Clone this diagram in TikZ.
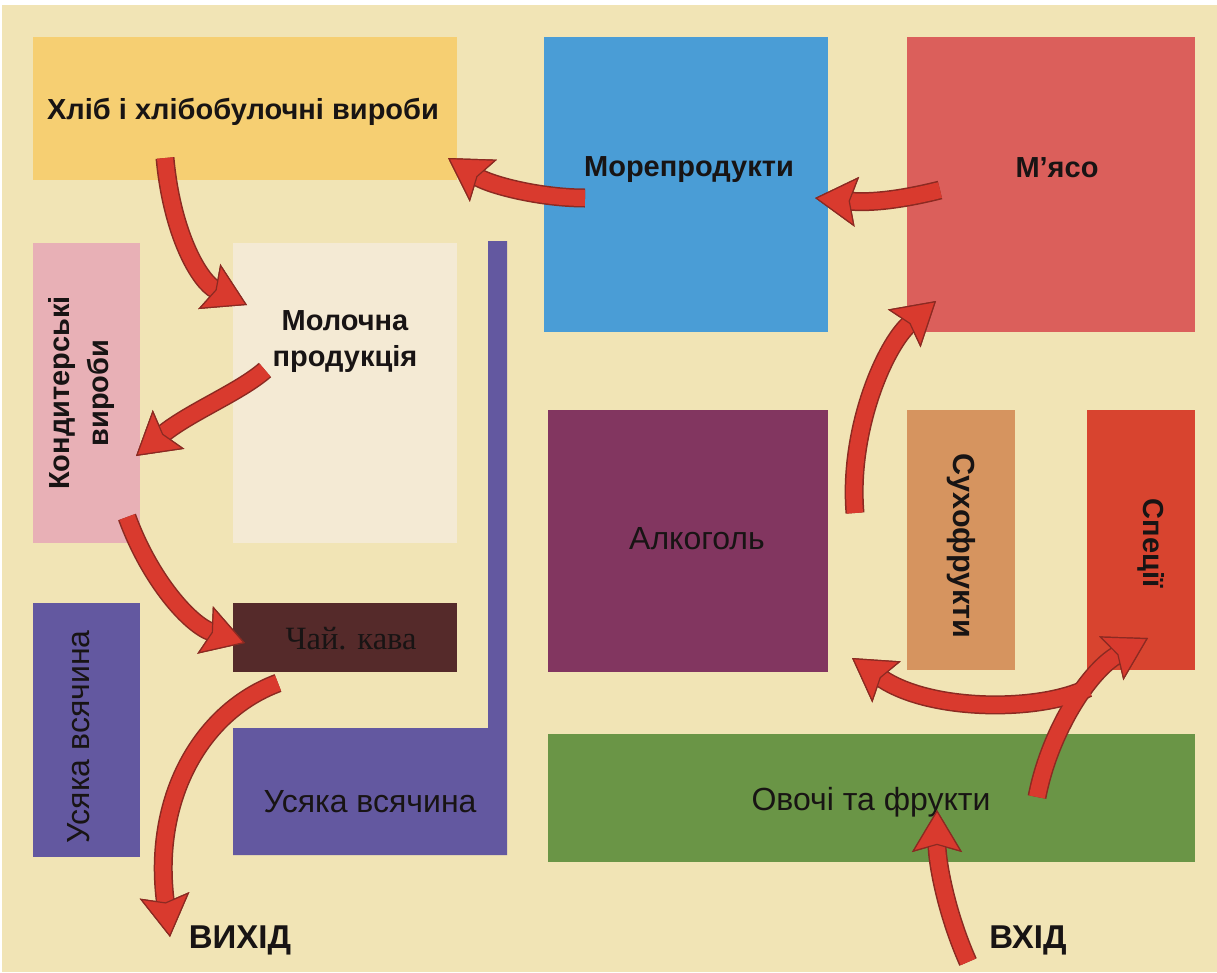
\documentclass[tikz,border=0pt]{standalone}
\usepackage{fontspec}
\setmainfont{Liberation Sans}
\newfontfamily\serifface{Liberation Serif}
\usetikzlibrary{arrows.meta}
\definecolor{bg}{HTML}{F1E4B5}
\definecolor{bread}{HTML}{F6CF72}
\definecolor{sea}{HTML}{4A9DD6}
\definecolor{meat}{HTML}{DB5F5B}
\definecolor{pinkbox}{HTML}{E8B0B6}
\definecolor{cream}{HTML}{F4EAD4}
\definecolor{violet}{HTML}{6358A0}
\definecolor{tea}{HTML}{552A2A}
\definecolor{alco}{HTML}{823660}
\definecolor{dried}{HTML}{D6945F}
\definecolor{spice}{HTML}{D8442F}
\definecolor{veg}{HTML}{6A9546}
\definecolor{arrowred}{HTML}{D93A2E}
\definecolor{arrowline}{HTML}{8B2A22}
\definecolor{ink}{HTML}{181414}
\newcommand\flowarrows[1]{%
  \draw[#1] (a1s) .. controls (900,200) and (870,203) .. (a1e);
  \draw[#1] (a2s) .. controls (540,198) and (490,185) .. (a2e);
  \draw[#1] (a3s) .. controls (172,235) and (200,282) .. (a3e);
  \draw[#1] (a4s) .. controls (240,392) and (190,412) .. (a4e);
  \draw[#1] (a5s) .. controls (150,580) and (190,625) .. (a5e);
  \draw[#1] (a6s) .. controls (200,712) and (152,800) .. (a6e);
  \draw[#1] (a7s) .. controls (945,910) and (937,860) .. (a7e);
  \draw[#1] (a9s) .. controls (1040,712) and (930,712) .. (a9e);
  \draw[#1] (a8s) .. controls (1050,730) and (1090,670) .. (a8e);
  \draw[#1] (a10s) .. controls (848,430) and (885,345) .. (a10e);
}
\begin{document}
\begin{tikzpicture}[x=1pt,y=-1pt,
  boxshape/.style={rectangle, inner sep=0pt, draw=none},
  plainlabel/.style={inner sep=0pt, text=ink, font=\fontsize{32}{38}\selectfont, align=center},
  boldlabel/.style={inner sep=0pt, text=ink, font=\fontsize{29}{36}\selectfont\bfseries, align=center},
  arrowbase/.style={draw=arrowline, line width=19pt,
    -{Stealth[width=50pt,length=42pt,inset=7pt,line width=1.2pt,color=arrowline,fill=arrowred]}},
  arrowtop/.style={draw=arrowred, line width=16pt,
    -{Stealth[width=50pt,length=42pt,inset=7pt,line width=1.2pt,color=arrowline,fill=arrowred]}},
  exitlabel/.style={text=ink, font=\fontsize{33}{38}\selectfont\bfseries, inner sep=0pt}
]
\useasboundingbox (0,0) rectangle (1217,972);
\fill[white] (0,0) rectangle (1217,972);
\fill[bg] (2,5) rectangle (1217,972);

% boxes
\node[boxshape, fill=bread, minimum width=424pt, minimum height=143pt] (bread) at (245,108.5) {};
\node[boxshape, fill=sea, minimum width=284pt, minimum height=295pt] (sea) at (686,184.5) {};
\node[boxshape, fill=meat, minimum width=288pt, minimum height=295pt] (meat) at (1051,184.5) {};
\node[boxshape, fill=pinkbox, minimum width=107pt, minimum height=300pt] (sweets) at (86.5,393) {};
\node[boxshape, fill=cream, minimum width=224pt, minimum height=300pt] (dairy) at (345,393) {};
\node[boxshape, fill=tea, minimum width=224pt, minimum height=69pt] (tea) at (345,637.5) {};
\node[boxshape, fill=violet, minimum width=107pt, minimum height=254pt] (misc1) at (86.5,730) {};
\fill[violet] (488,241) -- (507,241) -- (507,855) -- (233,855) -- (233,728) -- (488,728) -- cycle;
\node[boxshape, fill=alco, minimum width=280pt, minimum height=262pt] (alco) at (688,541) {};
\node[boxshape, fill=dried, minimum width=108pt, minimum height=260pt] (dried) at (961,540) {};
\node[boxshape, fill=spice, minimum width=108pt, minimum height=260pt] (spice) at (1141,540) {};
\node[boxshape, fill=veg, minimum width=647pt, minimum height=128pt] (veg) at (871.5,798) {};

% texts
\node[boldlabel] (breadtext) at (243,112) {Хліб і хлібобулочні вироби};
\node[boldlabel] (seatext) at (689,170) {Морепродукти};
\node[boldlabel] (meattext) at (1057,168) {М’ясо};
\node[boldlabel, rotate=90, font=\fontsize{29}{39}\selectfont\bfseries] (sweetstext) at (82,393) {Кондитерські\\вироби};
\node[boldlabel] (dairytext) at (345,342) {Молочна\\продукція};
\node[inner sep=0pt, text=ink, font=\fontsize{32.5}{36}\selectfont\serifface] (teatext) at (351,639) {Чай. кава};
\node[plainlabel, rotate=90] (misc1text) at (79,737) {Усяка всячина};
\node[plainlabel] (misc2text) at (370,802) {Усяка всячина};
\node[plainlabel] (alcotext) at (697,539) {Алкоголь};
\node[boldlabel, rotate=-90, font=\fontsize{30.5}{36}\selectfont\bfseries] (driedtext) at (961,546) {Сухофрукти};
\node[boldlabel, rotate=-90] (spicetext) at (1151,543) {Спеції};
\node[plainlabel] (vegtext) at (871,802) {Овочі та фрукти};

% labels
\node[exitlabel] (exit) at (240,940) {ВИХІД};
\node[exitlabel] (entry) at (1028,940) {ВХІД};

% arrow end points
\coordinate (a1s) at (940,190); \coordinate (a1e) at (815,198);
\coordinate (a2s) at (585,198); \coordinate (a2e) at (448,158);
\coordinate (a3s) at (165,158); \coordinate (a3e) at (247,305);
\coordinate (a4s) at (265,370); \coordinate (a4e) at (136,456);
\coordinate (a5s) at (127,517); \coordinate (a5e) at (245,643);
\coordinate (a6s) at (278,683); \coordinate (a6e) at (170,937);
\coordinate (a7s) at (968,962); \coordinate (a7e) at (937,810);
\coordinate (a8s) at (1037,797); \coordinate (a8e) at (1148,638);
\coordinate (a9s) at (1088,688); \coordinate (a9e) at (852,658);
\coordinate (a10s) at (855,513); \coordinate (a10e) at (936,301);

\flowarrows{arrowbase}
\flowarrows{arrowtop}
\end{tikzpicture}
\end{document}
